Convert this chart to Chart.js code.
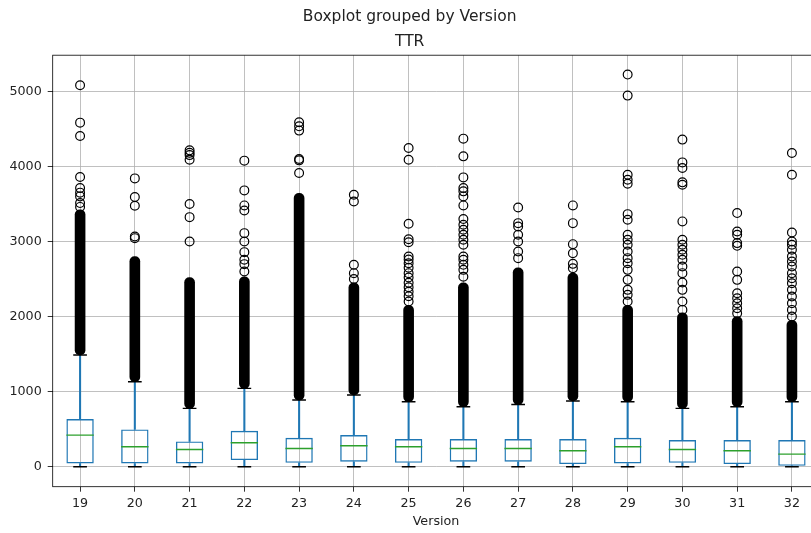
<!DOCTYPE html>
<html>
<head>
<meta charset="utf-8">
<script src="https://cdn.jsdelivr.net/npm/chart.js@4/dist/chart.umd.min.js"></script>
<style>
  html, body { margin: 0; padding: 0; overflow: hidden; background: #fff; }
  #wrap { width: 872px; height: 533px; }
</style>
</head>
<body>
<div id="wrap"><canvas id="boxChart" width="872" height="533"></canvas></div>
<script>
// Values (TTR per Version)
const versions = ["19", "20", "21", "22", "23", "24", "25", "26", "27", "28", "29", "30", "31", "32"];
const whiskerLow = [0, 0, 0, 0, 0, 0, 0, 0, 0, 0, 0, 0, 0, 0];
const q1 = [44, 44, 44, 89, 53, 67, 53, 67, 67, 36, 44, 53, 36, 13];
const medians = [422, 267, 231, 320, 244, 280, 267, 244, 244, 213, 267, 231, 213, 169];
const q3 = [636, 498, 338, 480, 387, 422, 369, 369, 369, 369, 387, 356, 356, 356];
const whiskerHigh = [1489, 1133, 778, 1044, 889, 956, 867, 800, 830, 876, 867, 778, 800, 867];
// top of the solid run of overlapping fliers just above each whisker
const denseTop = [3420, 2800, 2520, 2530, 3640, 2450, 2150, 2450, 2650, 2580, 2150, 2050, 2000, 1950];
// separate fliers visible above the solid run
const outliers = [
  [5080, 4582, 4404, 3858, 3711, 3650, 3600, 3511, 3460],
  [3840, 3591, 3476, 3067, 3044],
  [4213, 4180, 4150, 4089, 3498, 3324, 3000],
  [4076, 3680, 3480, 3413, 3111, 3000, 2858, 2756, 2698, 2600],
  [4587, 4533, 4476, 4098, 4080, 3911],
  [3622, 3533, 2689, 2578, 2500],
  [4244, 4089, 3236, 3030, 2990, 2800, 2760, 2711, 2650, 2578, 2520, 2450, 2390, 2330, 2270, 2200],
  [4369, 4133, 3853, 3711, 3667, 3600, 3480, 3298, 3222, 3156, 3089, 3022, 2956, 2800, 2756, 2689, 2622, 2530],
  [3453, 3244, 3200, 3089, 3000, 2867, 2778],
  [3480, 3244, 2964, 2844, 2702, 2644],
  [5222, 4942, 3889, 3822, 3769, 3364, 3289, 3089, 3022, 2956, 2867, 2778, 2711, 2622, 2489, 2356, 2289, 2200],
  [4356, 4053, 3978, 3787, 3756, 3267, 3022, 2956, 2889, 2822, 2756, 2667, 2578, 2453, 2356, 2200, 2089],
  [3378, 3133, 3089, 2978, 2942, 2600, 2489, 2311, 2244, 2178, 2111, 2044],
  [4178, 3889, 3120, 3000, 2956, 2889, 2800, 2733, 2667, 2578, 2511, 2444, 2356, 2267, 2178, 2089, 2000]
];
const yTickValues = [0, 1000, 2000, 3000, 4000, 5000];
const yMin = -265;
const yMax = 5480;

const C0 = "#1f77b4";
const C2 = "#2ca02c";
const textColor = "#222";
const font = { family: "'DejaVu Sans', sans-serif", size: 12.7 };

// matplotlib-like frame around the axes
const framePlugin = {
  id: "frame",
  afterDatasetsDraw(chart) {
    const a = chart.chartArea;
    const ctx = chart.ctx;
    ctx.save();
    ctx.strokeStyle = "#000";
    ctx.lineWidth = 0.8;
    ctx.strokeRect(a.left, a.top, a.right - a.left, a.bottom - a.top);
    ctx.restore();
  }
};

const capPoints = [];
versions.forEach((v, i) => {
  capPoints.push({ x: v, y: whiskerLow[i] });
  capPoints.push({ x: v, y: whiskerHigh[i] });
});
const flierPoints = [];
versions.forEach((v, i) => {
  outliers[i].forEach(y => flierPoints.push({ x: v, y: y }));
});

const ctx = document.getElementById("boxChart").getContext("2d");
new Chart(ctx, {
  type: "bar",
  plugins: [framePlugin],
  data: {
    labels: versions,
    datasets: [
      {
        label: "lower whisker",
        data: versions.map((v, i) => [whiskerLow[i], q1[i]]),
        backgroundColor: C0,
        barThickness: 1.4,
        grouped: false,
        order: 7
      },
      {
        label: "upper whisker",
        data: versions.map((v, i) => [q3[i], whiskerHigh[i]]),
        backgroundColor: C0,
        barThickness: 1.4,
        grouped: false,
        order: 6
      },
      {
        label: "box",
        data: versions.map((v, i) => [q1[i], q3[i]]),
        backgroundColor: "rgba(0,0,0,0)",
        borderColor: C0,
        borderWidth: 1.4,
        borderSkipped: false,
        barPercentage: 0.5,
        categoryPercentage: 1,
        grouped: false,
        order: 5
      },
      {
        label: "dense fliers",
        data: versions.map((v, i) => [whiskerHigh[i], denseTop[i]]),
        backgroundColor: "#000",
        barThickness: 10,
        borderRadius: 5,
        borderSkipped: false,
        grouped: false,
        order: 4
      },
      {
        type: "scatter",
        label: "caps",
        data: capPoints,
        pointStyle: "line",
        pointRadius: 6.85,
        borderColor: "#000",
        borderWidth: 1.4,
        order: 3
      },
      {
        type: "scatter",
        label: "median",
        data: versions.map((v, i) => ({ x: v, y: medians[i] })),
        pointStyle: "line",
        pointRadius: 13.7,
        borderColor: C2,
        borderWidth: 1.4,
        order: 2
      },
      {
        type: "scatter",
        label: "fliers",
        data: flierPoints,
        pointStyle: "circle",
        pointRadius: 4.4,
        backgroundColor: "rgba(0,0,0,0)",
        borderColor: "#000",
        borderWidth: 1.2,
        order: 1
      }
    ]
  },
  options: {
    responsive: false,
    animation: false,
    events: [],
    layout: { padding: { left: 0, right: 52.7, top: 0, bottom: 0 } },
    plugins: {
      legend: { display: false },
      tooltip: { enabled: false },
      title: {
        display: true,
        text: "Boxplot grouped by Version",
        color: textColor,
        font: { family: "'DejaVu Sans', sans-serif", size: 15.5, weight: "normal" },
        padding: { top: 7.2, bottom: 2 }
      },
      subtitle: {
        display: true,
        text: "TTR",
        color: textColor,
        font: { family: "'DejaVu Sans', sans-serif", size: 15.5, weight: "normal" },
        padding: { top: 4.6, bottom: 4.2 }
      }
    },
    scales: {
      x: {
        type: "category",
        offset: true,
        grid: { display: true, offset: false, color: "#b0b0b0", lineWidth: 0.8, tickColor: "#000", tickLength: 5 },
        border: { display: false },
        ticks: { color: textColor, font: font, padding: 4, autoSkip: false, maxRotation: 0 },
        title: { display: true, text: "Version", color: textColor, font: font, padding: { top: 0, bottom: 3.7 } },
        afterFit: scale => { scale.height = 46.3; }
      },
      y: {
        type: "linear",
        min: yMin,
        max: yMax,
        grid: { color: "#b0b0b0", lineWidth: 0.8, tickColor: "#000", tickLength: 5 },
        border: { display: false },
        ticks: {
          color: textColor,
          font: font,
          padding: 6,
          autoSkip: false,
          callback: value => String(value)
        },
        afterBuildTicks: scale => { scale.ticks = yTickValues.map(v => ({ value: v })); },
        afterFit: scale => { scale.width = 52.7; }
      }
    }
  }
});
</script>
</body>
</html>
